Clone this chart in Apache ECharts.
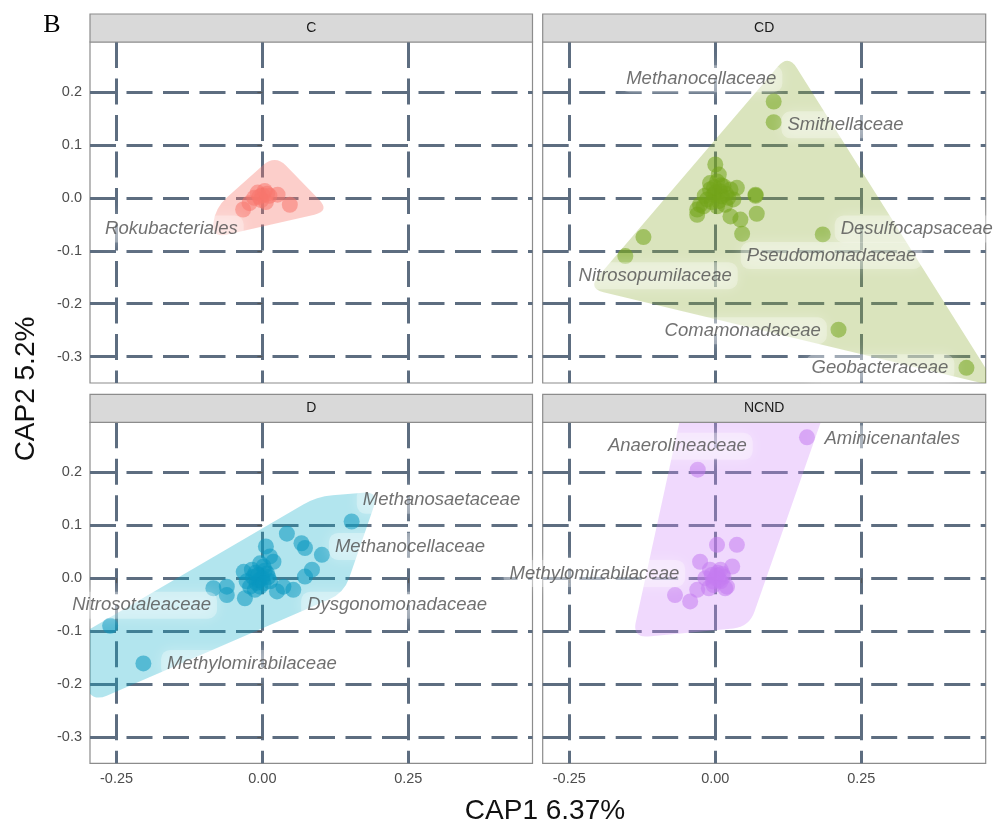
<!DOCTYPE html>
<html>
<head>
<meta charset="utf-8">
<script src="https://cdn.jsdelivr.net/npm/echarts@6/dist/echarts.min.js"></script>
<style>
  html, body { margin: 0; padding: 0; background: #ffffff; }
  #chart { width: 995px; height: 825px; }
</style>
</head>
<body>
<div id="chart"></div>
<script>
// ---- facets and axes ----
const panels = ['C', 'CD', 'D', 'NCND'];
const xTicks = [-0.25, 0, 0.25];
const xTickLabels = ['-0.25', '0.00', '0.25'];
const yTicks = [-0.3, -0.2, -0.1, 0, 0.1, 0.2];
const yTickLabels = ['-0.3', '-0.2', '-0.1', '0.0', '0.1', '0.2'];
const xRange = [-0.2955, 0.463];
const yRange = [-0.3497, 0.2944];

// ---- CAP scores (CAP1, CAP2) per treatment ----
const pointsC = [
  [-0.008, 0.010], [0.004, 0.013], [0.012, 0.004], [-0.002, -0.004], [-0.014, 0.000],
  [0.006, -0.008], [0.026, 0.006], [0.047, -0.013], [-0.033, -0.022], [-0.022, -0.010],
  [0.000, 0.005], [-0.005, 0.002], [0.008, 0.008]
];
const pointsCD = [
  [-0.009, 0.016], [0.014, 0.022], [0.026, 0.016], [0.037, 0.019], [-0.014, -0.003],
  [-0.026, -0.013], [-0.031, -0.022], [0.003, -0.016], [0.017, -0.013], [0.031, -0.003],
  [-0.003, 0.006], [0.011, 0.003], [0.003, 0.031], [-0.009, 0.028], [-0.020, -0.016],
  [0.000, 0.010], [0.008, 0.012], [0.018, 0.008], [-0.006, -0.008], [0.006, -0.006],
  [0.022, 0.000], [-0.018, 0.004], [0.010, 0.024], [-0.002, 0.020],
  [0.000, 0.063], [0.006, 0.044], [0.069, 0.006], [0.069, 0.004], [0.071, -0.030],
  [0.043, -0.041], [0.026, -0.035], [0.046, -0.068], [-0.031, -0.032],
  [-0.123, -0.074], [-0.154, -0.110], [0.100, 0.182], [0.100, 0.143],
  [0.184, -0.069], [0.211, -0.249], [0.430, -0.321]
];
const pointsD = [
  [0.042, 0.084], [0.067, 0.066], [0.073, 0.057], [0.102, 0.044], [0.085, 0.016],
  [0.073, 0.003], [0.053, -0.022], [0.025, -0.025], [0.036, -0.016], [0.006, 0.060],
  [0.013, 0.041], [0.019, 0.031], [-0.004, 0.028], [-0.018, 0.016], [-0.027, -0.006],
  [-0.010, -0.009], [0.008, 0.009], [0.002, 0.022], [-0.021, -0.016], [-0.013, -0.022],
  [0.013, -0.006], [-0.007, 0.006], [0.000, 0.000], [-0.006, -0.004], [-0.016, 0.002],
  [0.004, 0.014], [-0.004, -0.016], [0.010, 0.002], [-0.012, 0.010], [0.002, -0.010],
  [-0.032, 0.012], [-0.030, -0.038], [-0.061, -0.016],
  [-0.084, -0.019], [-0.061, -0.032], [0.153, 0.107], [-0.261, -0.090], [-0.204, -0.161]
];
const pointsNCND = [
  [0.037, 0.063], [0.003, 0.063], [-0.026, 0.031], [0.029, 0.022], [-0.009, 0.016],
  [0.009, 0.016], [-0.017, 0.000], [0.009, -0.006], [0.020, -0.016], [-0.003, -0.013],
  [0.003, 0.006], [0.014, 0.003], [-0.011, -0.019], [0.017, -0.019], [0.000, 0.000],
  [0.006, -0.003], [-0.006, 0.006], [0.012, 0.008], [-0.004, -0.006], [0.004, 0.010],
  [-0.031, -0.022], [-0.069, -0.032], [-0.043, -0.044], [-0.030, 0.205], [0.157, 0.266]
];

// ---- hull outlines (CAP1, CAP2 vertices) ----
const hullC = [[-0.081, -0.019], [0.022, 0.082], [0.116, -0.025], [-0.087, -0.076]];
const hullCD = [[0.125, 0.271], [0.483, -0.357], [-0.218, -0.171]];
const hullD = [[0.200, 0.164], [0.140, -0.028], [-0.292, -0.234], [-0.333, -0.120], [0.093, 0.154]];
const hullNCND = [[-0.053, 0.337], [0.194, 0.337], [0.058, -0.092], [-0.142, -0.113]];

// ---- taxon labels: name, CAP1, CAP2 of the text centre ----
const labelsC = [['Rokubacteriales', -0.156, -0.059]];
const labelsCD = [
  ['Methanocellaceae', -0.024, 0.225], ['Smithellaceae', 0.223, 0.138],
  ['Desulfocapsaceae', 0.345, -0.059], ['Pseudomonadaceae', 0.199, -0.109],
  ['Nitrosopumilaceae', -0.103, -0.147], ['Comamonadaceae', 0.047, -0.251],
  ['Geobacteraceae', 0.282, -0.321]
];
const labelsD = [
  ['Methanosaetaceae', 0.307, 0.147], ['Methanocellaceae', 0.253, 0.060],
  ['Dysgonomonadaceae', 0.231, -0.051], ['Nitrosotaleaceae', -0.207, -0.051],
  ['Methylomirabilaceae', -0.018, -0.161]
];
const labelsNCND = [
  ['Anaerolineaceae', -0.065, 0.249], ['Aminicenantales', 0.303, 0.263],
  ['Methylomirabilaceae', -0.207, 0.009]
];

const pointColors = ['#F8766D', '#72A41A', '#0A98C0', '#C57BF0'];
const hullColors = ['rgba(248,118,109,0.36)', 'rgba(140,170,50,0.32)', 'rgba(0,170,200,0.30)', 'rgba(210,140,250,0.33)'];

const pointSets = [pointsC, pointsCD, pointsD, pointsNCND];
const hullSets = [hullC, hullCD, hullD, hullNCND];
const labelSets = [labelsC, labelsCD, labelsD, labelsNCND];

// ---- panel layout ----
const gridBoxes = [
  { left: 90, top: 42, width: 442.5, height: 341 },
  { left: 542.7, top: 42, width: 443, height: 341 },
  { left: 90, top: 422.3, width: 442.5, height: 341 },
  { left: 542.7, top: 422.3, width: 443, height: 341 }
];
const stripH = 28;
const FONT = '"Liberation Sans", Arial, Helvetica, sans-serif';
const gridLine = { color: '#5d6d80', width: 3, type: [26, 10.5] };

// hull path with rounded corners
function roundedPath(pts, r) {
  const n = pts.length;
  let d = '';
  for (let i = 0; i < n; i++) {
    const p = pts[i], a = pts[(i - 1 + n) % n], b = pts[(i + 1) % n];
    const la = Math.hypot(a[0] - p[0], a[1] - p[1]);
    const lb = Math.hypot(b[0] - p[0], b[1] - p[1]);
    const ta = Math.min(r / la, 0.5), tb = Math.min(r / lb, 0.5);
    const s = [p[0] + (a[0] - p[0]) * ta, p[1] + (a[1] - p[1]) * ta];
    const e = [p[0] + (b[0] - p[0]) * tb, p[1] + (b[1] - p[1]) * tb];
    d += (i === 0 ? 'M' : 'L') + s[0] + ' ' + s[1] + ' Q' + p[0] + ' ' + p[1] + ' ' + e[0] + ' ' + e[1] + ' ';
  }
  return d + 'Z';
}

const grids = gridBoxes.map(b => ({
  left: b.left, top: b.top, width: b.width, height: b.height,
  show: true, borderColor: '#8c8c8c', borderWidth: 1.2, backgroundColor: 'transparent',
  containLabel: false
}));

const xAxes = panels.map((p, i) => {
  const bottom = i >= 2;
  return {
    type: 'value', gridIndex: i, min: xRange[0], max: xRange[1],
    axisLine: { show: false },
    axisTick: { show: bottom, length: 5, lineStyle: { color: '#555', width: 1.2 }, customValues: xTicks },
    axisLabel: {
      show: bottom, customValues: xTicks, margin: 8, color: '#4d4d4d', fontSize: 14.5, fontFamily: FONT,
      formatter: v => xTickLabels[xTicks.findIndex(t => Math.abs(t - v) < 1e-9)]
    },
    splitLine: { show: true, lineStyle: gridLine }
  };
});

const yAxes = panels.map((p, i) => {
  const leftCol = i % 2 === 0;
  return {
    type: 'value', gridIndex: i, min: yRange[0], max: yRange[1],
    axisLine: { show: false },
    axisTick: { show: leftCol, length: 5, lineStyle: { color: '#555', width: 1.2 }, customValues: yTicks },
    axisLabel: {
      show: leftCol, customValues: yTicks, margin: 8, color: '#4d4d4d', fontSize: 14.5, fontFamily: FONT,
      formatter: v => yTickLabels[yTicks.findIndex(t => Math.abs(t - v) < 1e-9)]
    },
    splitLine: { show: true, lineStyle: gridLine }
  };
});

const series = [];
panels.forEach((p, i) => {
  const hull = hullSets[i];
  series.push({
    type: 'custom', name: p + ' hull', xAxisIndex: i, yAxisIndex: i, clip: true, silent: true, z: 1,
    data: [[0, 0]],
    renderItem: (params, api) => {
      const px = hull.map(v => api.coord(v));
      return { type: 'path', shape: { pathData: roundedPath(px, 16) }, style: { fill: hullColors[i] } };
    }
  });
  series.push({
    type: 'scatter', name: p, xAxisIndex: i, yAxisIndex: i, z: 2, silent: true,
    symbolSize: 16,
    itemStyle: { color: pointColors[i], opacity: 0.55 },
    data: pointSets[i]
  });
  series.push({
    type: 'scatter', name: p + ' labels', xAxisIndex: i, yAxisIndex: i, z: 3, silent: true, clip: false,
    symbolSize: 1, itemStyle: { color: 'rgba(0,0,0,0)' },
    data: labelSets[i].map(l => ({ name: l[0], value: [l[1], l[2]] })),
    label: {
      show: true, position: 'inside', formatter: '{b}',
      fontStyle: 'italic', fontSize: 18.5, fontFamily: FONT, color: '#4d4d4d',
      backgroundColor: 'rgba(255,255,255,0.38)', padding: [4, 6], borderRadius: 9,
      shadowColor: 'rgba(255,255,255,0.95)', shadowBlur: 14
    }
  });
});

const graphics = [];
panels.forEach((p, i) => {
  const b = gridBoxes[i];
  graphics.push({
    type: 'rect', silent: true, z: 10,
    shape: { x: b.left, y: b.top - stripH, width: b.width, height: stripH },
    style: { fill: '#d9d9d9', stroke: '#8c8c8c', lineWidth: 1.2 }
  });
  graphics.push({
    type: 'text', silent: true, z: 11,
    style: {
      text: p, x: b.left + b.width / 2, y: b.top - stripH / 2,
      textAlign: 'center', textVerticalAlign: 'middle',
      font: '14px ' + FONT, fill: '#1a1a1a'
    }
  });
});
graphics.push({
  type: 'text', silent: true,
  style: { text: 'CAP1 6.37%', x: 545, y: 811, textAlign: 'center', textVerticalAlign: 'middle', font: '28px ' + FONT, fill: '#111' }
});
graphics.push({
  type: 'text', silent: true, rotation: Math.PI / 2, x: 26, y: 389,
  style: { text: 'CAP2 5.2%', x: 0, y: 0, textAlign: 'center', textVerticalAlign: 'middle', font: '28px ' + FONT, fill: '#111' }
});
graphics.push({
  type: 'text', silent: true,
  style: { text: 'B', x: 52, y: 25, textAlign: 'center', textVerticalAlign: 'middle', font: '26px "Liberation Serif", "Times New Roman", serif', fill: '#000' }
});

const chart = echarts.init(document.getElementById('chart'), null, { renderer: 'canvas' });
chart.setOption({
  animation: false,
  backgroundColor: '#ffffff',
  grid: grids,
  xAxis: xAxes,
  yAxis: yAxes,
  series: series,
  graphic: graphics
});
</script>
</body>
</html>
